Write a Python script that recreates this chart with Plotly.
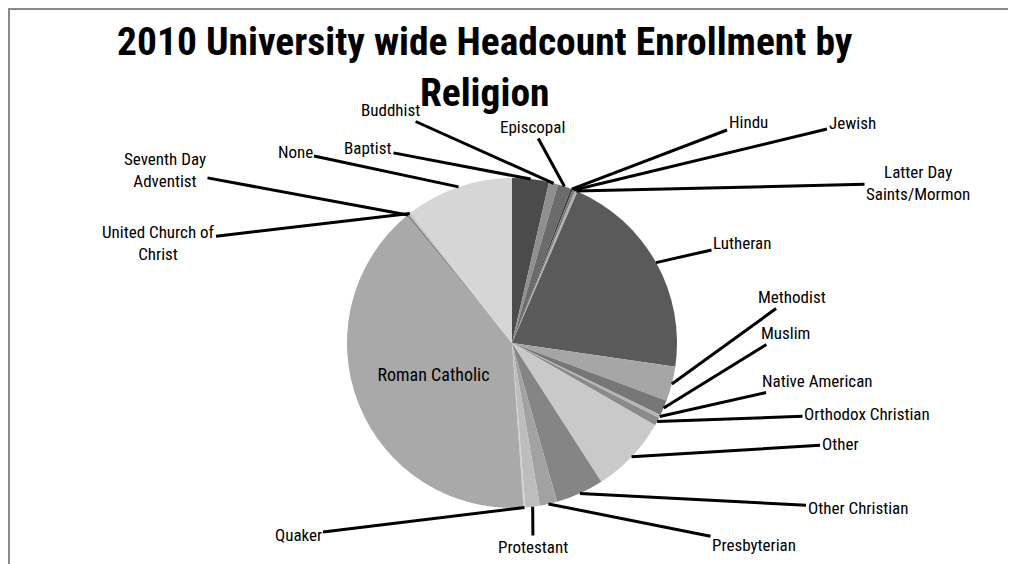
import math
import plotly.graph_objects as go

# Data (percent of headcount)
religions = ['Baptist', 'Buddhist', 'Episcopal', 'Hindu', 'Jewish',
             'Latter Day<br>Saints/Mormon', 'Lutheran', 'Methodist', 'Muslim',
             'Native American', 'Orthodox Christian', 'Other', 'Other Christian',
             'Presbyterian', 'Protestant', 'Quaker', 'Roman Catholic',
             'Seventh Day<br>Adventist', 'United Church of<br>Christ', 'None']
shares = [3.6, 0.9, 1.3, 0.2, 0.25, 0.25, 20.8, 3.4, 1.5, 0.3, 0.8, 7.6, 4.7,
          1.7, 1.4, 0.2, 40.1, 0.25, 0.25, 10.5]
colors = ['#4b4b4b', '#8f8f8f', '#6b6b6b', '#3c3c3c', '#7a7a7a', '#b0b0b0',
          '#5a5a5a', '#a6a6a6', '#777777', '#b5b5b5', '#8a8a8a', '#c9c9c9',
          '#858585', '#a2a2a2', '#bdbdbd', '#cfcfcf', '#a9a9a9', '#8a8a8a',
          '#c8c8c8', '#d6d6d6']

# label text centres in page pixels (layout only)
label_pos = {
    'Baptist': (368, 148), 'Buddhist': (390, 110), 'Episcopal': (532, 127),
    'Hindu': (748, 122), 'Jewish': (852, 123),
    'Latter Day<br>Saints/Mormon': (918, 183), 'Lutheran': (742, 243),
    'Methodist': (792, 297), 'Muslim': (785, 333), 'Native American': (817, 381),
    'Orthodox Christian': (867, 414), 'Other': (840, 444),
    'Other Christian': (858, 508), 'Presbyterian': (754, 545),
    'Protestant': (533, 547), 'Quaker': (298, 535),
    'Seventh Day<br>Adventist': (165, 170), 'United Church of<br>Christ': (158, 243),
    'None': (295, 152),
}

OFF = 8  # page body margin
W, H = 1008, 556
cx, cy, R = 512, 343, 165


def px2paper(x, y):
    return (x - OFF) / W, 1 - (y - OFF) / H


font = 'Liberation Sans Narrow, Roboto Condensed, Liberation Sans, Arial'

x0, y1 = px2paper(cx - R, cy - R)
x1, y0 = px2paper(cx + R, cy + R)

fig = go.Figure(go.Pie(
    labels=religions, values=shares, sort=False, direction='clockwise',
    marker=dict(colors=colors, line=dict(width=0)),
    text=['Roman Catholic' if r == 'Roman Catholic' else '' for r in religions],
    textinfo='text', textposition='inside', insidetextorientation='horizontal',
    textfont=dict(family=font, size=18, color='black'),
    domain=dict(x=[x0, x1], y=[y0, y1]),
    showlegend=False, hoverinfo='label+percent',
))

total = sum(shares)
annotations = []
cum = 0
for name, v in zip(religions, shares):
    mid = (cum + v / 2) / total * 2 * math.pi
    cum += v
    if name not in label_pos:
        continue
    px = cx + R * math.sin(mid)
    py = cy - R * math.cos(mid)
    tx, ty = label_pos[name]
    ax_, ay_ = px2paper(px, py)
    annotations.append(dict(
        x=ax_, y=ay_, xref='paper', yref='paper',
        ax=tx - px, ay=ty - py, text=name, showarrow=True,
        arrowhead=0, arrowwidth=3, arrowcolor='black',
        font=dict(family=font, size=17, color='black'), align='center',
    ))

tx_, ty_ = px2paper(485, 67)
annotations.append(dict(
    x=tx_, y=ty_, xref='paper', yref='paper', showarrow=False,
    xanchor='center', yanchor='middle',
    text='<b>2010 University wide Headcount Enrollment by<br>Religion</b>',
    font=dict(family=font, size=39.5, color='black'), align='center',
))

fx0, fy1 = px2paper(7, 6)
fx1, _ = px2paper(1013, 0)

fig.update_layout(
    width=W, height=H, margin=dict(l=0, r=0, t=0, b=0),
    paper_bgcolor='white', plot_bgcolor='white',
    annotations=annotations,
    shapes=[dict(type='rect', xref='paper', yref='paper',
                 x0=max(fx0, 0.001), x1=fx1, y0=-0.05, y1=min(fy1, 0.998),
                 line=dict(color='#8a8a8a', width=2))],
)

fig.write_html("out.html")
